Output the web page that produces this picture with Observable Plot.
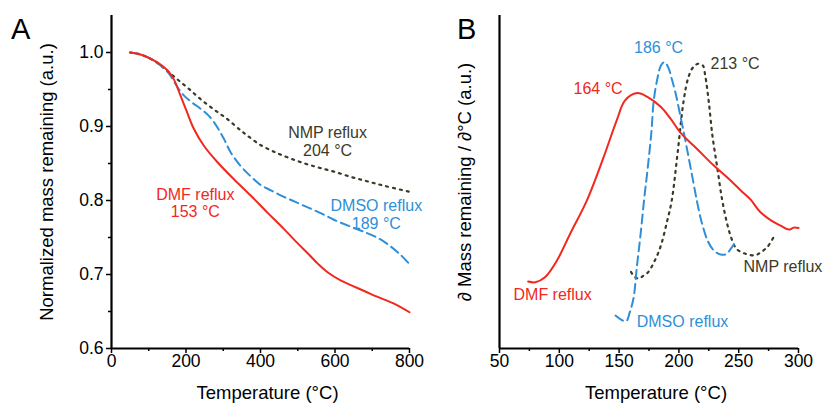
<!DOCTYPE html>
<html>
<head>
<meta charset="utf-8">
<script src="https://cdn.jsdelivr.net/npm/d3@7"></script>
<script src="https://cdn.jsdelivr.net/npm/@observablehq/plot@0.6"></script>
<style>
  body { margin: 0; background: #fff; }
  #wrap { position: relative; width: 826px; height: 405px; font-family: Arial, "Liberation Sans", sans-serif; }
  .panel { position: absolute; top: 0; }
  .letter { position: absolute; font-size: 29px; line-height: 1; color: #000; font-family: Arial, "Liberation Sans", sans-serif; }
</style>
</head>
<body>
<div id="wrap">
  <div class="panel" id="pa" style="left:0px"></div>
  <div class="panel" id="pb" style="left:420px"></div>
  <div class="letter" style="left:11px; top:15px">A</div>
  <div class="letter" style="left:457px; top:15px">B</div>
</div>
<script>
// ---------- Panel A: TGA (normalized mass remaining) ----------
const dmfT = [50, 80, 122, 150, 167, 185, 203, 221, 248, 284, 328, 373, 418, 462, 500, 530, 555, 580, 615, 650, 686, 713, 757, 800];
const dmfM = [1.000, 0.997, 0.987, 0.976, 0.964, 0.942, 0.919, 0.897, 0.874, 0.852, 0.829, 0.807, 0.784, 0.762, 0.742, 0.727, 0.714, 0.703, 0.692, 0.684, 0.676, 0.670, 0.661, 0.649];

const dmsoT = [50, 80, 120, 150, 158, 175, 194, 215, 239, 258, 275, 302, 320, 346, 373, 400, 427, 454, 485, 516, 557, 597, 640, 686, 720, 749, 775, 798];
const dmsoM = [1.000, 0.997, 0.987, 0.974, 0.969, 0.955, 0.942, 0.933, 0.924, 0.916, 0.906, 0.883, 0.865, 0.847, 0.833, 0.821, 0.814, 0.807, 0.800, 0.793, 0.784, 0.774, 0.765, 0.756, 0.748, 0.738, 0.727, 0.715];

const nmpT = [50, 80, 120, 150, 176, 205, 239, 275, 311, 346, 364, 400, 436, 454, 490, 525, 560, 597, 642, 686, 731, 798];
const nmpM = [1.000, 0.997, 0.987, 0.975, 0.964, 0.952, 0.937, 0.923, 0.910, 0.895, 0.888, 0.875, 0.866, 0.862, 0.855, 0.849, 0.844, 0.839, 0.832, 0.826, 0.820, 0.812];

const aXTicks = [0, 200, 400, 600, 800];
const aXMinor = [100, 300, 500, 700];
const aYTicks = [0.6, 0.7, 0.8, 0.9, 1.0];
const aYMinor = [0.65, 0.75, 0.85, 0.95];

const aLabelText = ["NMP reflux\n204 °C", "DMF reflux\n153 °C", "DMSO reflux\n189 °C"];
const aLabelX = [580, 225, 711];
const aLabelY = [0.880, 0.797, 0.782];
const aLabelColor = ["nmp", "dmf", "dmso"];

// ---------- Panel B: DTG (derivative) ----------
const dmfBT = [74, 80, 88, 98, 109, 123, 137, 148, 155, 165, 174, 185, 193, 202, 215, 229, 240, 252, 260, 268, 277, 285, 292, 296, 300];
const dmfBD = [0.201, 0.199, 0.214, 0.264, 0.344, 0.444, 0.574, 0.685, 0.745, 0.767, 0.755, 0.725, 0.690, 0.645, 0.600, 0.550, 0.515, 0.474, 0.447, 0.410, 0.385, 0.369, 0.357, 0.363, 0.362];

const dmsoBT = [147, 152, 156, 159, 162, 165, 168, 171, 174, 177, 179, 182, 185, 188, 191, 194, 197, 200, 204, 207, 211, 215, 219, 224, 229, 235, 240, 243, 246];
const dmsoBD = [0.099, 0.086, 0.082, 0.110, 0.150, 0.250, 0.344, 0.450, 0.544, 0.650, 0.745, 0.810, 0.850, 0.860, 0.845, 0.810, 0.770, 0.720, 0.650, 0.595, 0.520, 0.444, 0.380, 0.324, 0.295, 0.282, 0.284, 0.298, 0.312];

const nmpBT = [160, 163, 167, 170, 174, 180, 185, 190, 194, 199, 204, 208, 212, 216, 220, 222, 225, 228, 232, 236, 240, 244, 248, 253, 258, 264, 268, 274, 280];
const nmpBD = [0.230, 0.215, 0.210, 0.218, 0.228, 0.265, 0.310, 0.380, 0.444, 0.590, 0.745, 0.815, 0.845, 0.855, 0.850, 0.820, 0.740, 0.640, 0.545, 0.450, 0.380, 0.330, 0.300, 0.288, 0.282, 0.280, 0.288, 0.305, 0.340];

const bXTicks = [50, 100, 150, 200, 250, 300];
const bXMinor = [75, 125, 175, 225, 275];

const bLabelText = ["186 °C", "213 °C", "164 °C", "DMF reflux", "DMSO reflux", "NMP reflux"];
const bLabelX = [183, 247, 132.4, 94.4, 203, 287];
const bLabelY = [0.904, 0.856, 0.781, 0.162, 0.081, 0.246];
const bLabelColor = ["dmso", "nmp", "dmf", "dmf", "dmso", "nmp"];

const colors = {dmf: "#f0281e", dmso: "#2e8fd8", nmp: "#3a3a28"};
const font = "Arial, 'Liberation Sans', sans-serif";

const zip = (xs, ys) => xs.map((x, i) => ({x, y: ys[i]}));
const lbl = (t, xs, ys, cs) => t.map((s, i) => ({text: s, x: xs[i], y: ys[i], c: colors[cs[i]]}));
const blank = () => "";

const lineStyles = {
  dmf: {stroke: colors.dmf, strokeWidth: 2},
  dmso: {stroke: colors.dmso, strokeWidth: 2, strokeDasharray: "9 5"},
  nmp: {stroke: colors.nmp, strokeWidth: 2.2, strokeDasharray: "2 5"}
};

const tickFont = 17.5, titleFont = 18.5, annFont = 16;
const common = {height: 405, marginTop: 15, marginBottom: 57, style: {fontFamily: font, fontSize: "16px", background: "transparent", overflow: "visible", color: "#000"}};

const plotA = Plot.plot({
  ...common,
  width: 430, marginLeft: 111, marginRight: 21,
  x: {domain: [0, 800]},
  y: {domain: [0.6, 1.05]},
  marks: [
    Plot.axisX(aXTicks, {tickSize: 5, tickPadding: 1, tickFormat: "d", strokeWidth: 1.5, fontSize: tickFont, label: null}),
    Plot.axisX(aXMinor, {tickSize: 3, tickFormat: blank, strokeWidth: 1.5, label: null}),
    Plot.axisY(aYTicks, {tickSize: 5, tickPadding: 3, tickFormat: ".1f", strokeWidth: 1.5, fontSize: tickFont, label: null}),
    Plot.axisY(aYMinor, {tickSize: 3, tickFormat: blank, strokeWidth: 1.5, label: null}),
    Plot.line(zip(nmpT, nmpM), {x: "x", y: "y", curve: "catmull-rom", ...lineStyles.nmp}),
    Plot.line(zip(dmsoT, dmsoM), {x: "x", y: "y", curve: "catmull-rom", ...lineStyles.dmso}),
    Plot.line(zip(dmfT, dmfM), {x: "x", y: "y", curve: "catmull-rom", ...lineStyles.dmf}),
    Plot.ruleX([0], {strokeWidth: 2.2}),
    Plot.ruleY([0.6], {strokeWidth: 2.2}),
    Plot.text(lbl(aLabelText, aLabelX, aLabelY, aLabelColor), {x: "x", y: "y", text: "text", fill: "c", fontSize: annFont, lineHeight: 1.12}),
    Plot.text(["Temperature (°C)"], {frameAnchor: "bottom", lineAnchor: "middle", textAnchor: "middle", dx: 7, dy: 45, fontSize: titleFont}),
    Plot.text(["Normalized mass remaining (a.u.)"], {frameAnchor: "left", lineAnchor: "middle", textAnchor: "middle", dx: -64, rotate: -90, fontSize: titleFont})
  ]
});

const plotB = Plot.plot({
  ...common,
  width: 406, marginLeft: 79, marginRight: 28,
  x: {domain: [50, 300]},
  y: {domain: [0, 1], axis: null},
  marks: [
    Plot.axisX(bXTicks, {tickSize: 5, tickPadding: 1, tickFormat: "d", strokeWidth: 1.5, fontSize: tickFont, label: null}),
    Plot.axisX(bXMinor, {tickSize: 3, tickFormat: blank, strokeWidth: 1.5, label: null}),
    Plot.line(zip(nmpBT, nmpBD), {x: "x", y: "y", curve: "catmull-rom", ...lineStyles.nmp}),
    Plot.line(zip(dmsoBT, dmsoBD), {x: "x", y: "y", curve: "catmull-rom", ...lineStyles.dmso}),
    Plot.line(zip(dmfBT, dmfBD), {x: "x", y: "y", curve: "catmull-rom", ...lineStyles.dmf}),
    Plot.ruleX([50], {strokeWidth: 2.2}),
    Plot.ruleY([0], {strokeWidth: 2.2}),
    Plot.text(lbl(bLabelText, bLabelX, bLabelY, bLabelColor), {x: "x", y: "y", text: "text", fill: "c", fontSize: annFont}),
    Plot.text(["Temperature (°C)"], {frameAnchor: "bottom", lineAnchor: "middle", textAnchor: "middle", dx: 7, dy: 45, fontSize: titleFont}),
    Plot.text(["∂ Mass remaining / ∂°C (a.u.)"], {frameAnchor: "left", lineAnchor: "middle", textAnchor: "middle", dx: -34, rotate: -90, fontSize: titleFont})
  ]
});

document.getElementById("pa").appendChild(plotA);
document.getElementById("pb").appendChild(plotB);
</script>
</body>
</html>
